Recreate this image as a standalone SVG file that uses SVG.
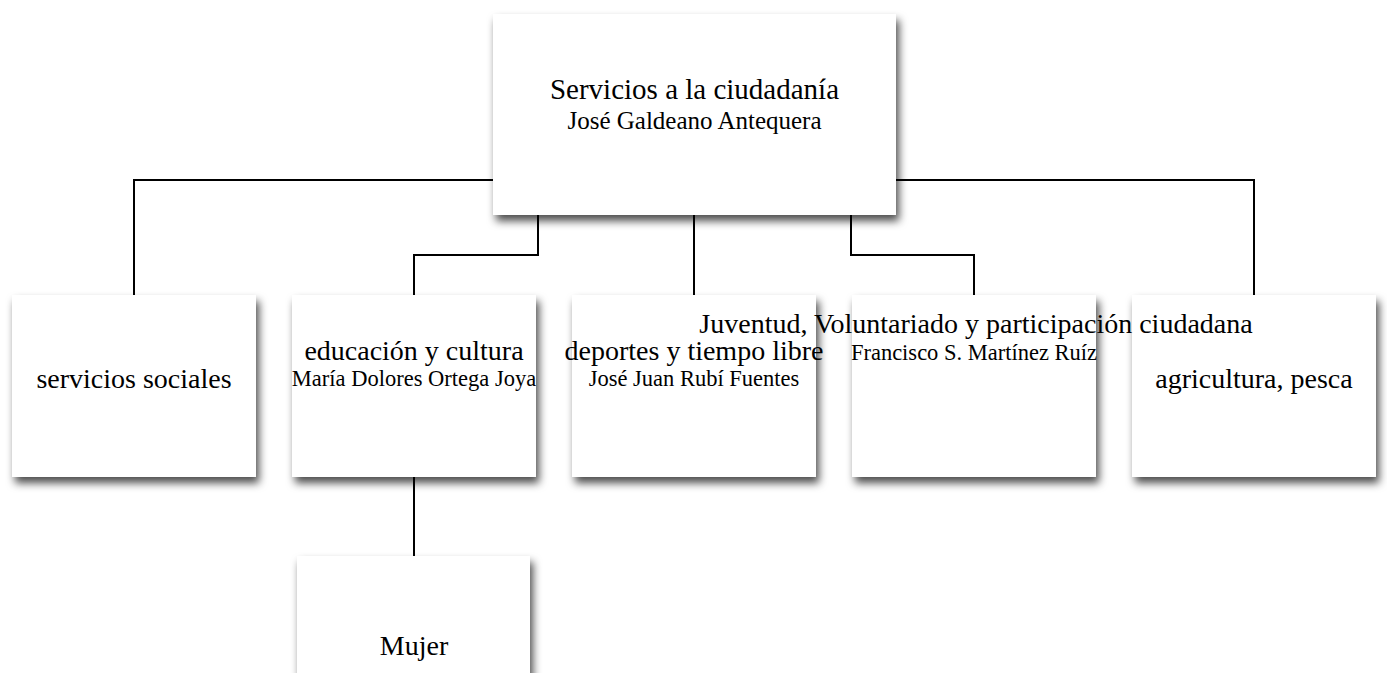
<svg xmlns="http://www.w3.org/2000/svg" width="1387" height="673" viewBox="0 0 1387 673">
<defs>
<filter id="sh" x="-10%" y="-10%" width="125%" height="135%">
<feDropShadow dx="3" dy="6" stdDeviation="4.5" flood-color="#000" flood-opacity="0.7"/>
</filter>
<style>
.box{fill:#fff;filter:url(#sh)}
.c{fill:none;stroke:#000;stroke-width:2}
text{font-family:"Liberation Serif","Times New Roman",serif;fill:#000;text-anchor:middle}
.t{font-size:28px}
.tt{font-size:29px}
.s{font-size:22.5px}
.st{font-size:25px}
</style>
</defs>
<rect width="1387" height="673" fill="#fff"/>
<g id="connectors">
<path class="c" d="M493,180 H134 V295"/>
<path class="c" d="M896,180 H1254 V295"/>
<path class="c" d="M538,215 V255 H414 V295"/>
<path class="c" d="M694,215 V295"/>
<path class="c" d="M851,215 V255 H974 V295"/>
<path class="c" d="M414,477 V556"/>
</g>
<g id="root">
<rect class="box" x="493" y="14" width="403" height="201"/>
<text class="tt" x="694.5" y="99">Servicios a la ciudadanía</text>
<text class="st" x="694.5" y="129">José Galdeano Antequera</text>
</g>
<g id="servicios-sociales">
<rect class="box" x="12" y="295" width="244" height="182"/>
<text class="t" x="134" y="388">servicios sociales</text>
</g>
<g id="educacion-cultura">
<rect class="box" x="292" y="295" width="244" height="182"/>
<text class="t" x="414" y="360">educación y cultura</text>
<text class="s" x="414" y="386">María Dolores Ortega Joya</text>
</g>
<g id="deportes">
<rect class="box" x="572" y="295" width="244" height="182"/>
<text class="t" x="694" y="360">deportes y tiempo libre</text>
<text class="s" x="694" y="386">José Juan Rubí Fuentes</text>
</g>
<g id="juventud">
<rect class="box" x="852" y="295" width="244" height="182"/>
<text class="s" x="974" y="360">Francisco S. Martínez Ruíz</text>
</g>
<g id="agricultura">
<rect class="box" x="1132" y="295" width="244" height="182"/>
<text class="t" x="1254" y="388">agricultura, pesca</text>
</g>
<text id="juventud-title" class="t" x="976" y="333">Juventud, Voluntariado y participación ciudadana</text>
<g id="mujer">
<rect class="box" x="297" y="556" width="233" height="182"/>
<text class="t" x="414" y="655">Mujer</text>
</g>
</svg>
